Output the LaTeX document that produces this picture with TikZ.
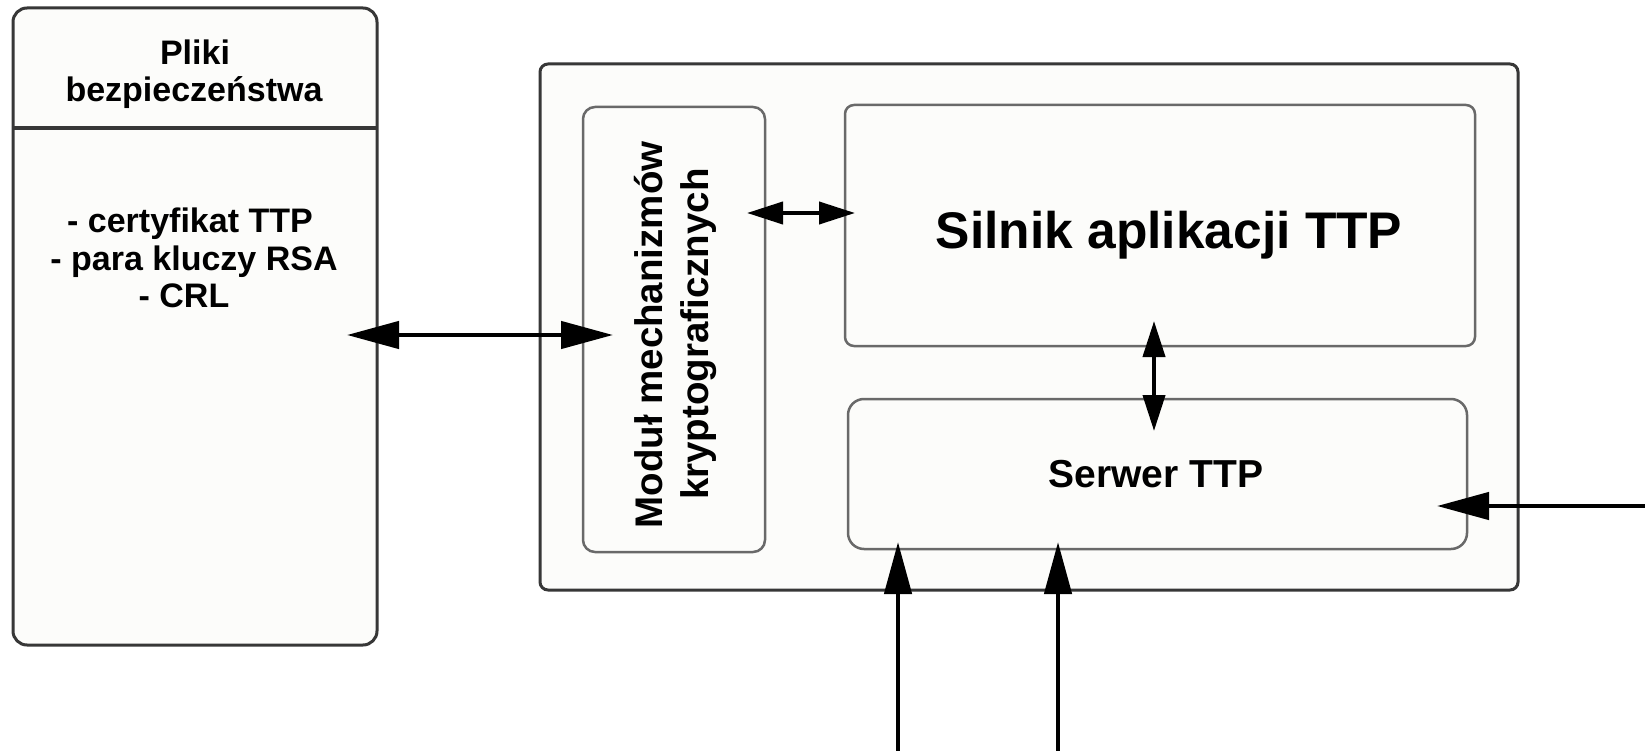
\documentclass[tikz,border=0pt]{standalone}
\usepackage{fontspec}
\setmainfont{Liberation Sans}
\usetikzlibrary{arrows.meta}

\definecolor{boxfill}{RGB}{252,252,250}
\definecolor{edgedark}{RGB}{55,55,55}
\definecolor{edgemid}{RGB}{105,105,105}

\begin{document}
\begin{tikzpicture}[x=1pt,y=-1pt,
  panel/.style={rectangle, draw=edgemid, line width=2.5pt, fill=boxfill,
    inner sep=0pt, outer sep=0pt},
  txt/.style={anchor=base, inner sep=0pt, outer sep=0pt, text=black},
  small/.style={txt, font=\fontsize{34}{37}\selectfont\bfseries},
  mid/.style={txt, font=\fontsize{38.5}{46}\selectfont\bfseries},
  large/.style={txt, font=\fontsize{51.5}{60}\selectfont\bfseries},
  link/.style={draw=black, line width=4.5pt},
  bigtip/.tip={Triangle[length=52pt,width=27pt]},
  smalltip/.tip={Triangle[length=36pt,width=22pt]}
]
\useasboundingbox (0,0) rectangle (1645,751);
\fill[white] (0,0) rectangle (1645,751);

% security files panel
\node[panel, draw=edgedark, line width=3pt, rounded corners=14pt,
  minimum width=364pt, minimum height=637pt] (files) at (195,326.5) {};
\draw[draw=edgedark, line width=4pt] (13,128) -- (377,128);
\node[small] (filesA) at (195,65) {Pliki};
\node[small] (filesB) at (194,102) {bezpieczeństwa};
\node[small] (item1) at (190,233) {- certyfikat TTP};
\node[small] (item2) at (194,270) {- para kluczy RSA};
\node[small] (item3) at (184,307) {- CRL};

% TTP application enclosure
\node[panel, draw=edgedark, line width=3pt, rounded corners=8pt,
  minimum width=978pt, minimum height=526pt] (ttp) at (1029,327) {};

% crypto module
\node[panel, rounded corners=12pt, minimum width=182pt, minimum height=445pt]
  (crypto) at (674,329.5) {};
\node[mid, rotate=90] (cryptoA) at (662,335) {Moduł mechanizmów};
\node[mid, rotate=90] (cryptoB) at (708,334) {kryptograficznych};

% application engine
\node[panel, rounded corners=9pt, minimum width=630pt, minimum height=241pt]
  (engine) at (1160,225.5) {};
\node[large] (engineT) at (1169,248) {Silnik aplikacji TTP};

% server
\node[panel, rounded corners=16pt, minimum width=619pt, minimum height=150pt]
  (server) at (1157.5,474) {};
\node[mid, font=\fontsize{39}{46}\selectfont\bfseries] (serverT) at (1156,487) {Serwer TTP};

% connector end points
\coordinate (fA) at (347,335);
\coordinate (cA) at (613,335);
\coordinate (cB) at (747,213);
\coordinate (eA) at (855,213);
\coordinate (eB) at (1154,321);
\coordinate (sA) at (1154,431);
\coordinate (sR) at (1437,506);
\coordinate (inR) at (1645,506);
\coordinate (sB1) at (898,542);
\coordinate (in1) at (898,751);
\coordinate (sB2) at (1058,542);
\coordinate (in2) at (1058,751);

% connectors
\draw[link, {bigtip}-{bigtip}] (fA) -- (cA);
\draw[link, line width=4pt, {smalltip}-{smalltip}] (cB) -- (eA);
\draw[link, line width=4pt, {smalltip}-{smalltip}] (eB) -- (sA);
\draw[link, -{bigtip}] (inR) -- (sR);
\draw[link, -{bigtip}] (in1) -- (sB1);
\draw[link, -{bigtip}] (in2) -- (sB2);
\end{tikzpicture}
\end{document}
